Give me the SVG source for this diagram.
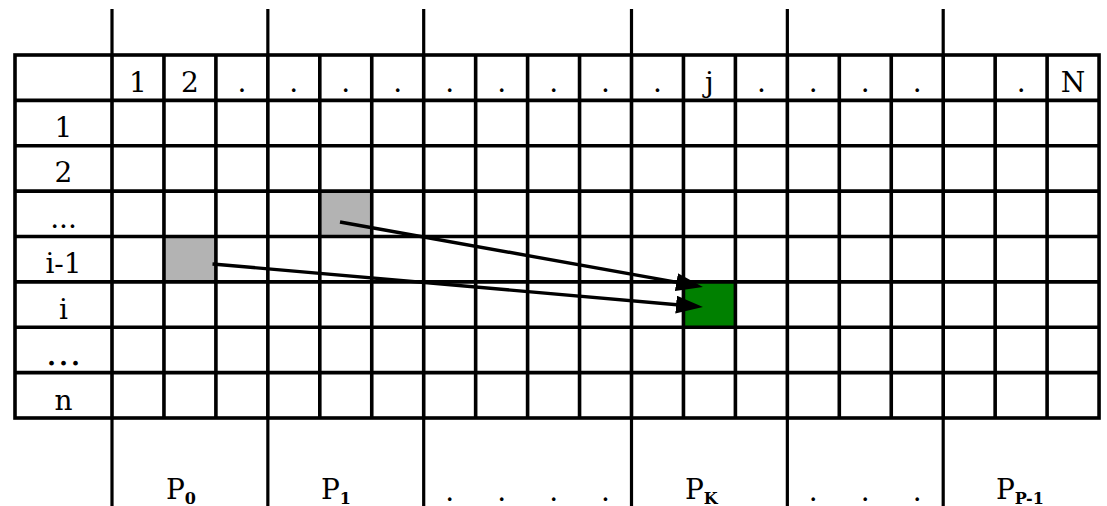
<svg xmlns="http://www.w3.org/2000/svg" width="1107" height="506" viewBox="0 0 1107 506">
<style>
.t{font-family:"DejaVu Serif",serif;font-size:28px;fill:#000;text-anchor:middle}
.p{font-family:"DejaVu Serif",serif;font-size:28px;fill:#000}
.sub{font-family:"DejaVu Serif",serif;font-size:16px;font-weight:bold}
.grid{fill:none;stroke:#000;stroke-width:3.6}
.sep{fill:none;stroke:#000;stroke-width:3.2}
.arrow{fill:none;stroke:#000;stroke-width:3.4;marker-end:url(#ah)}
</style>
<defs>
<marker id="ah" markerUnits="userSpaceOnUse" markerWidth="27" markerHeight="18" viewBox="0 0 27 18" refX="18" refY="9" orient="auto">
<path d="M0,0 L27,9 L0,18 z" fill="#000"/>
</marker>
</defs>
<rect width="1107" height="506" fill="#fff"/>
<g id="highlighted-cells">
<rect id="cell-prev-row" x="319.8" y="191.1" width="51.95" height="45.4" fill="#b3b3b3"/>
<rect id="cell-i-1" x="163.95" y="236.5" width="51.95" height="45.4" fill="#b3b3b3"/>
<rect id="cell-i-j" x="683.45" y="281.9" width="51.95" height="45.35" fill="#008000"/>
</g>
<g id="grid">
<path class="grid" d="M15,100.4H1099M15,145.75H1099M15,191.1H1099M15,236.5H1099M15,281.9H1099M15,327.25H1099M15,372.6H1099
M112,55V418M163.95,55V418M215.9,55V418M267.85,55V418M319.8,55V418M371.75,55V418M423.7,55V418M475.65,55V418M527.6,55V418M579.55,55V418M631.5,55V418M683.45,55V418M735.4,55V418M787.35,55V418M839.3,55V418M891.25,55V418M943.2,55V418M995.15,55V418M1047.1,55V418"/>
<rect class="grid" x="15" y="55" width="1084.05" height="363"/>
</g>
<g id="partitions">
<path class="sep" d="M112,9V55M267.85,9V55M423.7,9V55M631.5,9V55M787.35,9V55M943.2,9V55M112,418V506M267.85,418V506M423.7,418V506M631.5,418V506M787.35,418V506M943.2,418V506"/>
</g>
<g id="column-headers">
<text class="t" x="138" y="91.5">1</text>
<text class="t" x="189.9" y="91.5">2</text>
<text class="t" x="241.9" y="91.5">.</text>
<text class="t" x="293.8" y="91.5">.</text>
<text class="t" x="345.8" y="91.5">.</text>
<text class="t" x="397.7" y="91.5">.</text>
<text class="t" x="449.7" y="91.5">.</text>
<text class="t" x="501.6" y="91.5">.</text>
<text class="t" x="553.6" y="91.5">.</text>
<text class="t" x="605.5" y="91.5">.</text>
<text class="t" x="657.5" y="91.5">.</text>
<text class="t" x="709.4" y="91.5">j</text>
<text class="t" x="761.4" y="91.5">.</text>
<text class="t" x="813.3" y="91.5">.</text>
<text class="t" x="865.3" y="91.5">.</text>
<text class="t" x="917.2" y="91.5">.</text>
<text class="t" x="1021.1" y="91.5">.</text>
<text class="t" x="1073.1" y="91.5">N</text>
</g>
<g id="row-headers">
<text class="t" x="63.5" y="137">1</text>
<text class="t" x="63.5" y="182.3">2</text>
<text class="t" x="63.5" y="228">...</text>
<text class="t" x="63.5" y="273.2">i-1</text>
<text class="t" x="63.5" y="318.6">i</text>
<text class="t" x="63.5" y="364.5" style="font-size:36px">…</text>
<text class="t" x="63.5" y="409.5">n</text>
</g>
<g id="processors">
<text class="p" x="166" y="499">P<tspan class="sub" dy="5">0</tspan></text>
<text class="p" x="321" y="499">P<tspan class="sub" dy="5">1</tspan></text>
<text class="t" x="449.7" y="501">.</text>
<text class="t" x="501.6" y="501">.</text>
<text class="t" x="553.6" y="501">.</text>
<text class="t" x="605.5" y="501">.</text>
<text class="p" x="685" y="499">P<tspan class="sub" dy="5">K</tspan></text>
<text class="t" x="813.3" y="501">.</text>
<text class="t" x="865.3" y="501">.</text>
<text class="t" x="917.2" y="501">.</text>
<text class="p" x="996" y="499">P<tspan class="sub" dy="5">P-1</tspan></text>
</g>
<g id="connectors">
<path class="arrow" d="M340,222L694.1,285.4"/>
<path class="arrow" d="M212.5,264L694,306.2"/>
</g>
</svg>
